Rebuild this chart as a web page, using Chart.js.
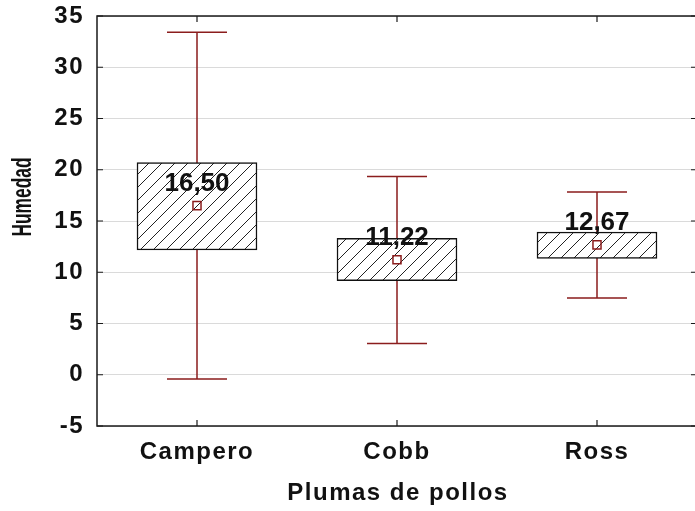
<!DOCTYPE html>
<html>
<head>
<meta charset="utf-8">
<script src="https://cdn.jsdelivr.net/npm/chart.js@4/dist/chart.umd.min.js"></script>
<style>
  html, body { margin: 0; padding: 0; background: #ffffff; overflow: hidden; }
  #wrap { position: relative; width: 695px; height: 511px; overflow: hidden; }
  #c { display: block; position: absolute; left: 0; top: 0; }
</style>
</head>
<body>
<div id="wrap"><canvas id="c" width="697" height="511"></canvas></div>
<script>
// ---- Data ----
const categories = ['Campero', 'Cobb', 'Ross'];
const means = [16.50, 11.22, 12.67];
const boxLow = [12.17, 9.18, 11.36];
const boxHigh = [20.69, 13.30, 13.93];
const whiskerLow = [-0.41, 3.06, 7.49];
const whiskerHigh = [33.41, 19.33, 17.83];
const yTicks = [-5, 0, 5, 10, 15, 20, 25, 30, 35];
const xTitle = 'Plumas de pollos';
const yTitle = 'Humedad';

// ---- Styles ----
const FONT_FAMILY = '"Liberation Sans", Arial, sans-serif';
const TEXT_COLOR = '#111111';
const DARK_RED = '#8b1d1d';
const SPACING = '1.5px';

function makeHatch() {
  const s = 13;
  const p = document.createElement('canvas');
  p.width = s; p.height = s;
  const g = p.getContext('2d');
  g.fillStyle = '#ffffff';
  g.fillRect(0, 0, s, s);
  g.strokeStyle = '#222222';
  g.lineWidth = 1;
  g.beginPath();
  g.moveTo(0, s); g.lineTo(s, 0);
  g.moveTo(-2, 2); g.lineTo(2, -2);
  g.moveTo(s - 2, s + 2); g.lineTo(s + 2, s - 2);
  g.stroke();
  return g.createPattern(p, 'repeat');
}

const spacingPlugin = {
  id: 'spacing',
  beforeUpdate(chart) { chart.ctx.letterSpacing = SPACING; },
  beforeLayout(chart) { chart.ctx.letterSpacing = SPACING; },
  beforeDraw(chart) { chart.ctx.letterSpacing = SPACING; }
};

const whiskerPlugin = {
  id: 'whiskers',
  beforeDatasetsDraw(chart) {
    const { ctx, scales: { x, y } } = chart;
    ctx.save();
    ctx.strokeStyle = DARK_RED;
    ctx.lineWidth = 1.5;
    categories.forEach((c, i) => {
      const px = x.getPixelForValue(i);
      const yHi = y.getPixelForValue(whiskerHigh[i]);
      const yLo = y.getPixelForValue(whiskerLow[i]);
      ctx.beginPath();
      ctx.moveTo(px, yHi); ctx.lineTo(px, yLo);
      ctx.moveTo(px - 30, yHi); ctx.lineTo(px + 30, yHi);
      ctx.moveTo(px - 30, yLo); ctx.lineTo(px + 30, yLo);
      ctx.stroke();
    });
    ctx.restore();
  }
};

const framePlugin = {
  id: 'frame',
  afterDraw(chart) {
    const { ctx, chartArea: a, scales: { x, y } } = chart;
    ctx.save();
    // frame
    ctx.strokeStyle = '#1a1a1a';
    ctx.lineWidth = 1.5;
    ctx.strokeRect(a.left, a.top, a.right - a.left, a.bottom - a.top);
    // inward ticks
    ctx.lineWidth = 1.2;
    ctx.beginPath();
    yTicks.forEach(v => {
      const py = y.getPixelForValue(v);
      ctx.moveTo(a.left, py); ctx.lineTo(a.left + 6, py);
      ctx.moveTo(a.right, py); ctx.lineTo(a.right - 6, py);
    });
    categories.forEach((c, i) => {
      const px = x.getPixelForValue(i);
      ctx.moveTo(px, a.bottom); ctx.lineTo(px, a.bottom - 6);
      ctx.moveTo(px, a.top); ctx.lineTo(px, a.top + 6);
    });
    ctx.stroke();

    // mean labels
    ctx.fillStyle = TEXT_COLOR;
    ctx.textAlign = 'center';
    ctx.textBaseline = 'middle';
    ctx.letterSpacing = '0px';
    ctx.font = 'bold 26px ' + FONT_FAMILY;
    const meta = chart.getDatasetMeta(1);
    meta.data.forEach((pt, i) => {
      const label = means[i].toFixed(2).replace('.', ',');
      ctx.fillText(label, pt.x, pt.y - 22);
    });

    // x axis title
    ctx.letterSpacing = SPACING;
    ctx.font = 'bold 24px ' + FONT_FAMILY;
    ctx.fillText(xTitle, (a.left + a.right) / 2 + 1, 493);

    // y axis title (rotated)
    ctx.letterSpacing = '0px';
    ctx.font = 'bold 28px ' + FONT_FAMILY;
    ctx.translate(23, 197);
    ctx.rotate(-Math.PI / 2);
    ctx.scale(0.62, 1);
    ctx.fillText(yTitle, 0, 0);
    ctx.restore();
  }
};

const ctx = document.getElementById('c').getContext('2d');
new Chart(ctx, {
  type: 'bar',
  data: {
    labels: categories,
    datasets: [
      {
        type: 'bar',
        data: categories.map((c, i) => [boxLow[i], boxHigh[i]]),
        backgroundColor: makeHatch(),
        borderColor: '#111111',
        borderWidth: 1.5,
        borderSkipped: false,
        barThickness: 120,
        order: 2
      },
      {
        type: 'line',
        data: means,
        showLine: false,
        pointStyle: 'rect',
        pointRadius: 5.7,
        pointHoverRadius: 5.7,
        pointBackgroundColor: 'rgba(0,0,0,0)',
        pointBorderColor: DARK_RED,
        pointBorderWidth: 1.5,
        order: 1
      }
    ]
  },
  options: {
    responsive: false,
    maintainAspectRatio: false,
    animation: false,
    events: [],
    layout: { autoPadding: false, padding: { top: 16, right: 0, left: 0, bottom: 0 } },
    plugins: { legend: { display: false }, tooltip: { enabled: false } },
    scales: {
      x: {
        type: 'category',
        offset: true,
        grid: { display: false, drawTicks: false },
        border: { display: false },
        ticks: {
          padding: 12,
          color: TEXT_COLOR,
          font: { family: FONT_FAMILY, size: 24, weight: 'bold' },
          maxRotation: 0,
          autoSkip: false
        },
        afterFit(scale) {
          scale.height = 85;
          scale.paddingLeft = 0; scale.paddingRight = 0;
        }
      },
      y: {
        min: -5,
        max: 35,
        afterBuildTicks(scale) { scale.ticks = yTicks.map(v => ({ value: v })); },
        grid: { color: '#dadada', lineWidth: 1, drawTicks: false },
        border: { display: false },
        ticks: {
          padding: 13,
          color: TEXT_COLOR,
          font: { family: FONT_FAMILY, size: 24, weight: 'bold' }
        },
        afterFit(scale) {
          scale.width = 97;
          scale.paddingTop = 0; scale.paddingBottom = 0;
        }
      }
    }
  },
  plugins: [spacingPlugin, whiskerPlugin, framePlugin]
});
</script>
</body>
</html>
